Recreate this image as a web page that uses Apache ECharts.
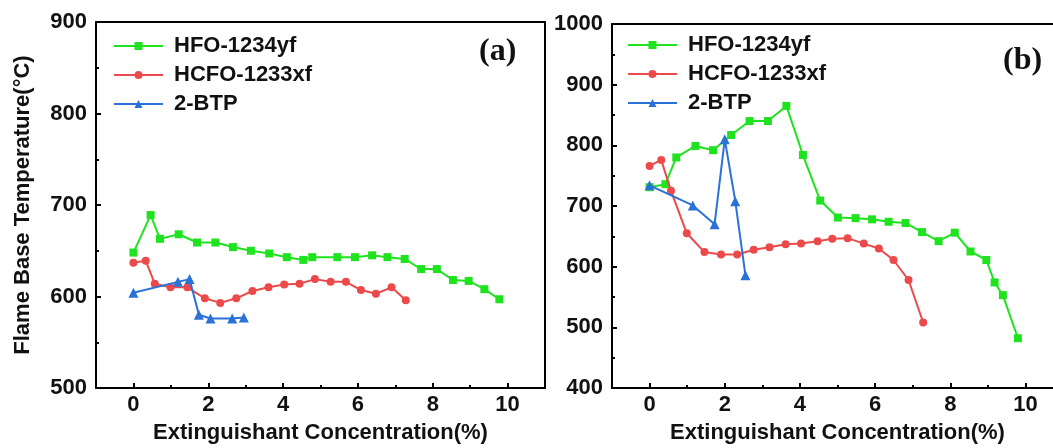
<!DOCTYPE html>
<html>
<head>
<meta charset="utf-8">
<script src="https://cdn.jsdelivr.net/npm/echarts@6/dist/echarts.min.js"></script>
<style>
html,body{margin:0;padding:0;background:#fff;}
#chart{width:1053px;height:448px;}
</style>
</head>
<body>
<div id="chart"></div>
<script>
// ---- Panel (a) data ----
const a_hfo_x = [0, 0.46, 0.71, 1.21, 1.70, 2.19, 2.66, 3.14, 3.63, 4.10, 4.54, 4.78, 5.45, 5.92, 6.38, 6.79, 7.25, 7.69, 8.11, 8.54, 8.96, 9.38, 9.78];
const a_hfo_y = [648, 689, 663, 668, 659, 659, 654, 650, 647, 643, 640, 643, 643, 643, 645, 643, 641, 630, 630, 618, 617, 608, 597];
const a_hcfo_x = [0, 0.33, 0.57, 0.99, 1.44, 1.91, 2.32, 2.75, 3.18, 3.61, 4.03, 4.44, 4.85, 5.27, 5.68, 6.08, 6.48, 6.90, 7.28];
const a_hcfo_y = [637, 639, 614, 610, 610, 598, 593, 598, 606, 610, 613, 614, 619, 616, 616, 607, 603, 610, 596];
const a_btp_x = [0, 1.19, 1.50, 1.75, 2.06, 2.64, 2.95];
const a_btp_y = [604, 616, 619, 580, 576, 576, 577];

// ---- Panel (b) data ----
const b_hfo_x = [0, 0.42, 0.71, 1.22, 1.69, 2.17, 2.66, 3.15, 3.64, 4.08, 4.54, 5.01, 5.48, 5.92, 6.36, 6.81, 7.25, 7.69, 8.12, 8.54, 8.96, 9.18, 9.40, 9.80];
const b_hfo_y = [731, 736, 780, 799, 792, 817, 840, 840, 865, 784, 709, 681, 680, 678, 674, 672, 657, 642, 656, 625, 611, 574, 553, 482];
const b_hcfo_x = [0, 0.31, 0.57, 0.99, 1.46, 1.90, 2.33, 2.77, 3.19, 3.62, 4.03, 4.47, 4.86, 5.27, 5.70, 6.10, 6.49, 6.89, 7.28];
const b_hcfo_y = [766, 776, 725, 655, 624, 620, 620, 628, 632, 637, 638, 642, 646, 647, 638, 630, 611, 578, 508];
const b_btp_x = [0, 1.15, 1.73, 2.00, 2.28, 2.55];
const b_btp_y = [734, 701, 670, 810, 708, 586];

// ---- labels / ticks ----
const seriesNames = ['HFO-1234yf', 'HCFO-1233xf', '2-BTP'];
const xMajorTicks = [0, 2, 4, 6, 8, 10];
const xMinorTicks = [1, 3, 5, 7, 9];
const xTitle = 'Extinguishant Concentration(%)';
const yTitle = 'Flame Base Temperature(\u00B0C)';
const panelLabels = ['(a)', '(b)'];

const zip = (xs, ys) => xs.map((x, i) => [x, ys[i]]);

const colors = ['#1fe31f', '#ec4a4a', '#2a72d8'];
const symbols = ['rect', 'circle', 'triangle'];
const symSizes = [8, 8, 10];
const FONT = '"Liberation Sans", Arial, sans-serif';

function mainX(grid) {
  return {
    gridIndex: grid, type: 'value', min: -1, max: 11, interval: 1,
    position: 'bottom',
    name: xTitle, nameLocation: 'middle', nameGap: 34,
    nameTextStyle: {fontFamily: FONT, fontWeight: 'bold', fontSize: 22, color: '#111'},
    axisLine: {show: true, onZero: false, lineStyle: {color: '#000', width: 2}},
    axisTick: {show: true, inside: true, length: 5, customValues: xMajorTicks, lineStyle: {color: '#000', width: 2}},
    axisLabel: {show: true, customValues: xMajorTicks, margin: 6, fontFamily: FONT, fontWeight: 'bold', fontSize: 22, color: '#111'},
    splitLine: {show: false}
  };
}
function minorX(grid) {
  return {
    gridIndex: grid, type: 'value', min: -1, max: 11, interval: 1,
    position: 'bottom',
    axisLine: {show: false, onZero: false},
    axisTick: {show: true, inside: true, length: 3, customValues: xMinorTicks, lineStyle: {color: '#000', width: 2}},
    axisLabel: {show: false},
    splitLine: {show: false}
  };
}
function topX(grid) {
  return {
    gridIndex: grid, type: 'value', min: -1, max: 11, interval: 1,
    position: 'top',
    axisLine: {show: true, onZero: false, lineStyle: {color: '#000', width: 2}},
    axisTick: {show: false}, axisLabel: {show: false}, splitLine: {show: false}
  };
}
function yAx(grid, min, max, withName) {
  const o = {
    gridIndex: grid, type: 'value', min: min, max: max, interval: 100,
    position: 'left',
    axisLine: {show: true, onZero: false, lineStyle: {color: '#000', width: 2}},
    axisTick: {show: true, inside: true, length: 5, lineStyle: {color: '#000', width: 2}},
    minorTick: {show: true, splitNumber: 2, length: 3, lineStyle: {color: '#000', width: 2}},
    axisLabel: {margin: 9, fontFamily: FONT, fontWeight: 'bold', fontSize: 22, color: '#111', formatter: v => String(v)},
    splitLine: {show: false}
  };
  if (withName) {
    o.name = yTitle; o.nameLocation = 'middle'; o.nameGap = 62;
    o.nameTextStyle = {fontFamily: FONT, fontWeight: 'bold', fontSize: 22, color: '#111'};
  }
  return o;
}
function rightY(grid, min, max) {
  return {
    gridIndex: grid, type: 'value', min: min, max: max, interval: 100,
    position: 'right',
    axisLine: {show: true, onZero: false, lineStyle: {color: '#000', width: 2}},
    axisTick: {show: false}, axisLabel: {show: false}, splitLine: {show: false}
  };
}
function mkSeries(name, idx, data, xi, yi) {
  return {
    name: name, type: 'line', xAxisIndex: xi, yAxisIndex: yi, data: data,
    symbol: symbols[idx], symbolSize: symSizes[idx], showSymbol: true,
    itemStyle: {color: colors[idx]},
    lineStyle: {color: colors[idx], width: 2},
    z: 3 + idx
  };
}
function mkLegend(left, top) {
  return {
    left: left, top: top, padding: 0, orient: 'vertical', itemWidth: 49, itemHeight: 10, itemGap: 5,
    data: seriesNames, selectedMode: false,
    textStyle: {fontFamily: FONT, fontWeight: 'bold', fontSize: 22, color: '#111', lineHeight: 24, padding: [0, 0, 0, 6]}
  };
}

const option = {
  animation: false,
  backgroundColor: '#fff',
  grid: [
    {left: 96, top: 22, width: 449, height: 366, outerBoundsMode: 'none', containLabel: false, show: false},
    {left: 612, top: 24, width: 451, height: 364, outerBoundsMode: 'none', containLabel: false, show: false}
  ],
  // 0: a main, 1: a minor, 2: b main, 3: b minor, 4: a top frame, 5: b top frame
  xAxis: [mainX(0), minorX(0), mainX(1), minorX(1), topX(0), topX(1)],
  // 0: a left, 1: b left, 2: a right frame
  yAxis: [yAx(0, 500, 900, true), yAx(1, 400, 1000, false), rightY(0, 500, 900)],
  legend: [mkLegend(113, 34), mkLegend(627, 33)],
  graphic: [
    {type: 'text', left: 479, top: 36, style: {text: panelLabels[0], font: 'bold 32px "Liberation Serif", "Times New Roman", serif', fill: '#111'}},
    {type: 'text', left: 1003, top: 45, style: {text: panelLabels[1], font: 'bold 32px "Liberation Serif", "Times New Roman", serif', fill: '#111'}}
  ],
  series: [
    mkSeries(seriesNames[0], 0, zip(a_hfo_x, a_hfo_y), 0, 0),
    mkSeries(seriesNames[1], 1, zip(a_hcfo_x, a_hcfo_y), 0, 0),
    mkSeries(seriesNames[2], 2, zip(a_btp_x, a_btp_y), 0, 0),
    mkSeries(seriesNames[0], 0, zip(b_hfo_x, b_hfo_y), 2, 1),
    mkSeries(seriesNames[1], 1, zip(b_hcfo_x, b_hcfo_y), 2, 1),
    mkSeries(seriesNames[2], 2, zip(b_btp_x, b_btp_y), 2, 1)
  ]
};

const chart = echarts.init(document.getElementById('chart'), null, {renderer: 'canvas'});
chart.setOption(option);
</script>
</body>
</html>
